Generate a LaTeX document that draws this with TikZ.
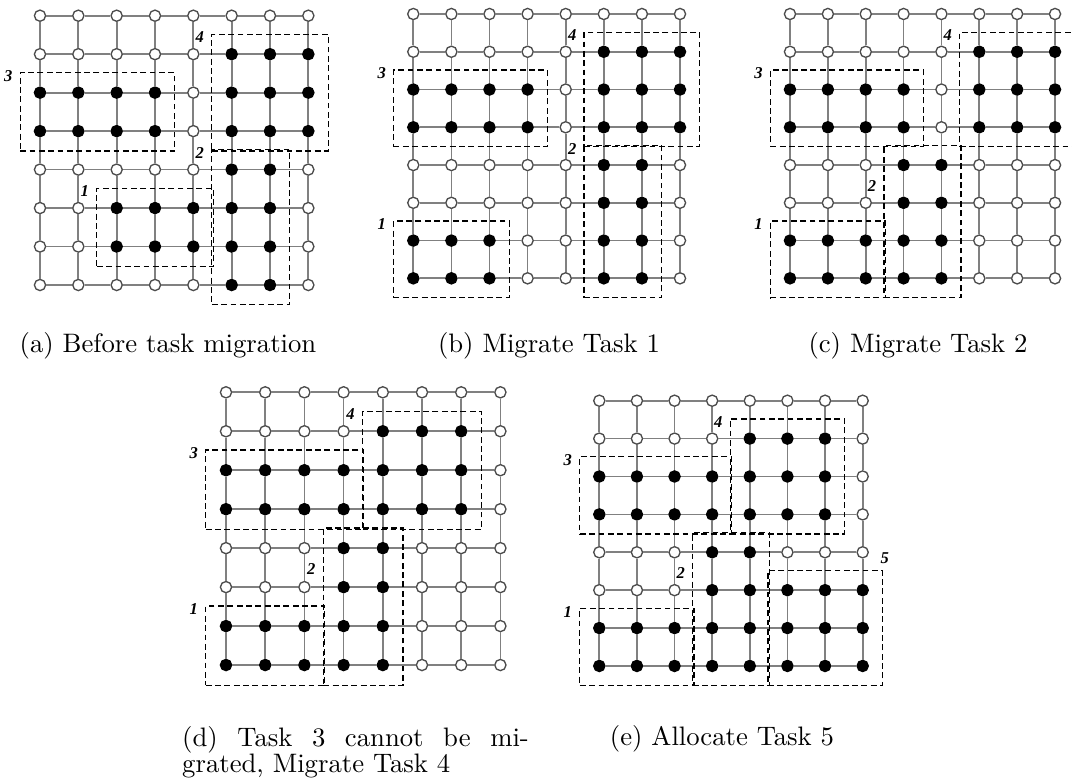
\documentclass[tikz,border=0pt]{standalone}
\usepackage{fontspec}
\usetikzlibrary{fit}
\newfontfamily\labelfont{Liberation Serif}

% 8x8 mesh: #1 = name prefix, #2 = rows of free (0) / busy (1) nodes
\newcommand{\drawmesh}[2]{%
  \foreach \row [count=\r] in {#2} {
    \foreach \v [count=\c] in \row
      \node[pe\v] (#1-\r-\c) at (\c-1,\r-1) {};
  }
  \foreach \i in {1,...,8} {
    \foreach \j [evaluate=\j as \k using int(\j+1)] in {1,...,7} {
      \draw[link] (#1-\i-\j) -- (#1-\i-\k);
      \draw[link] (#1-\j-\i) -- (#1-\k-\i);
    }
  }
}

\begin{document}
\begin{tikzpicture}[x=0.3745pt, y=-0.3745pt,
            pe0/.style = {circle, draw=black!70, fill=white,
                line width=0.5pt, minimum size=4.2pt, inner sep=0pt},
            pe1/.style = {pe0, draw=black, fill=black},
            link/.style = {draw=black!50, line width=0.65pt},
            task/.style = {draw, dash pattern=on 2.2pt off 1.3pt,
                line width=0.45pt},
            tasknum/.style = {font=\fontsize{6.2}{7}\labelfont\bfseries\itshape,
                inner sep=0pt},
            tasklabel/.style = {tasknum, anchor=east, xshift=-2.5pt, yshift=-1.4pt},
            caption/.style = {anchor=base, inner sep=0pt}]
\useasboundingbox (0,0) rectangle (1072,781);

% (a) before migration
\begin{scope}[shift={(40,15.7)}, x=14.355pt, y=-14.407pt,
        task/.append style={inner xsep=5.08pt, inner ysep=5.1pt}]
    \drawmesh{a}{%
        {0,0,0,0,0,0,0,0},%
        {0,0,0,0,0,1,1,1},%
        {1,1,1,1,0,1,1,1},%
        {1,1,1,1,0,1,1,1},%
        {0,0,0,0,0,1,1,0},%
        {0,0,1,1,1,1,1,0},%
        {0,0,1,1,1,1,1,0},%
        {0,0,0,0,0,1,1,0}}
    \node[task, fit=(a-2-6)(a-4-8)] (a-t4) {};
    \node[task, fit=(a-3-1)(a-4-4)] (a-t3) {};
    \node[task, fit=(a-5-6)(a-8-7)] (a-t2) {};
    \node[task, fit=(a-6-3)(a-7-5)] (a-t1) {};
    \node[tasklabel] at (a-t4.north west) {4};
    \node[tasklabel] at (a-t3.north west) {3};
    \node[tasklabel] at (a-t2.north west) {2};
    \node[tasklabel] at (a-t1.north west) {1};
\end{scope}
\node[caption] (cap-a) at (168,352) {(a) Before task migration};

% (b) task 1 moved
\begin{scope}[shift={(413.3,14)}, x=14.268pt, y=-14.141pt,
        task/.append style={inner xsep=5.03pt, inner ysep=4.97pt}]
    \drawmesh{b}{%
        {0,0,0,0,0,0,0,0},%
        {0,0,0,0,0,1,1,1},%
        {1,1,1,1,0,1,1,1},%
        {1,1,1,1,0,1,1,1},%
        {0,0,0,0,0,1,1,0},%
        {0,0,0,0,0,1,1,0},%
        {1,1,1,0,0,1,1,0},%
        {1,1,1,0,0,1,1,0}}
    \node[task, fit=(b-2-6)(b-4-8)] (b-t4) {};
    \node[task, fit=(b-3-1)(b-4-4)] (b-t3) {};
    \node[task, fit=(b-5-6)(b-8-7)] (b-t2) {};
    \node[task, fit=(b-7-1)(b-8-3)] (b-t1) {};
    \node[tasklabel] at (b-t4.north west) {4};
    \node[tasklabel] at (b-t3.north west) {3};
    \node[tasklabel] at (b-t2.north west) {2};
    \node[tasklabel] at (b-t1.north west) {1};
\end{scope}
\node[caption] (cap-b) at (549,352) {(b) Migrate Task 1};

% (c) task 2 moved
\begin{scope}[shift={(790,14)}, x=14.178pt, y=-14.141pt,
        task/.append style={inner xsep=4.99pt, inner ysep=4.97pt}]
    \drawmesh{c}{%
        {0,0,0,0,0,0,0,0},%
        {0,0,0,0,0,1,1,1},%
        {1,1,1,1,0,1,1,1},%
        {1,1,1,1,0,1,1,1},%
        {0,0,0,1,1,0,0,0},%
        {0,0,0,1,1,0,0,0},%
        {1,1,1,1,1,0,0,0},%
        {1,1,1,1,1,0,0,0}}
    \node[task, fit=(c-2-6)(c-4-8)] (c-t4) {};
    \node[task, fit=(c-3-1)(c-4-4)] (c-t3) {};
    \node[task, fit=(c-5-4)(c-8-5)] (c-t2) {};
    \node[task, fit=(c-7-1)(c-8-3)] (c-t1) {};
    \node[tasklabel] at (c-t4.north west) {4};
    \node[tasklabel] at (c-t3.north west) {3};
    \node[tasklabel, yshift=-14.1pt] at (c-t2.north west) {2};
    \node[tasklabel] at (c-t1.north west) {1};
\end{scope}
\node[caption] (cap-c) at (918,352) {(c) Migrate Task 2};

% (d) task 3 stays, task 4 moved
\begin{scope}[shift={(226,392.3)}, x=14.68pt, y=-14.59pt,
        task/.append style={inner xsep=5.24pt, inner ysep=5.2pt}]
    \drawmesh{d}{%
        {0,0,0,0,0,0,0,0},%
        {0,0,0,0,1,1,1,0},%
        {1,1,1,1,1,1,1,0},%
        {1,1,1,1,1,1,1,0},%
        {0,0,0,1,1,0,0,0},%
        {0,0,0,1,1,0,0,0},%
        {1,1,1,1,1,0,0,0},%
        {1,1,1,1,1,0,0,0}}
    \node[task, fit=(d-2-5)(d-4-7)] (d-t4) {};
    \node[task, fit=(d-3-1)(d-4-4)] (d-t3) {};
    \node[task, fit=(d-5-4)(d-8-5)] (d-t2) {};
    \node[task, fit=(d-7-1)(d-8-3)] (d-t1) {};
    \node[tasklabel] at (d-t4.north west) {4};
    \node[tasklabel] at (d-t3.north west) {3};
    \node[tasklabel, yshift=-14.1pt] at (d-t2.north west) {2};
    \node[tasklabel] at (d-t1.north west) {1};
\end{scope}
\node[anchor=north west, inner sep=0pt, text width=129.8pt, align=justify,
    font=\fontsize{10}{10}\selectfont] (cap-d) at (181.7,725.5)
    {(d) Task 3 cannot be mi-\linebreak grated, Migrate Task 4};

% (e) task 5 allocated
\begin{scope}[shift={(599.3,400.7)}, x=14.09pt, y=-14.19pt,
        task/.append style={inner xsep=4.95pt, inner ysep=5pt}]
    \drawmesh{e}{%
        {0,0,0,0,0,0,0,0},%
        {0,0,0,0,1,1,1,0},%
        {1,1,1,1,1,1,1,0},%
        {1,1,1,1,1,1,1,0},%
        {0,0,0,1,1,0,0,0},%
        {0,0,0,1,1,1,1,1},%
        {1,1,1,1,1,1,1,1},%
        {1,1,1,1,1,1,1,1}}
    \node[task, fit=(e-2-5)(e-4-7)] (e-t4) {};
    \node[task, fit=(e-3-1)(e-4-4)] (e-t3) {};
    \node[task, fit=(e-5-4)(e-8-5)] (e-t2) {};
    \node[task, fit=(e-7-1)(e-8-3)] (e-t1) {};
    \node[task, fit=(e-6-6)(e-8-8)] (e-t5) {};
    \node[tasklabel] at (e-t4.north west) {4};
    \node[tasklabel] at (e-t3.north west) {3};
    \node[tasklabel, yshift=-14.1pt] at (e-t2.north west) {2};
    \node[tasklabel] at (e-t1.north west) {1};
    \node[tasknum, anchor=south, xshift=0.7pt, yshift=2pt] at (e-t5.north east) {5};
\end{scope}
\node[caption] (cap-e) at (722,745) {(e) Allocate Task 5};
\end{tikzpicture}
\end{document}
